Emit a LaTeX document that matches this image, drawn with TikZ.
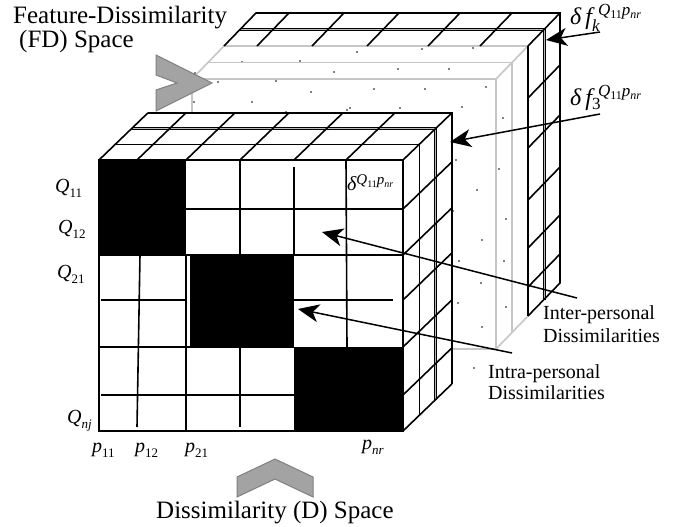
\documentclass[tikz,border=0pt]{standalone}
\usepackage{fontspec}
\setmainfont{Liberation Serif}
\usetikzlibrary{arrows.meta}
\newcommand\SB[1]{\raisebox{-5pt}{\fontsize{13}{13}\selectfont #1}}
\newcommand\SupQP[3]{\raisebox{#1}{\fontsize{#2}{#2}\selectfont\itshape Q\raisebox{-3pt}{\fontsize{#3}{#3}\selectfont\upshape 11}p\raisebox{-3pt}{\fontsize{#3}{#3}\selectfont nr}}}
\begin{document}
\begin{tikzpicture}[x=1pt,y=-1pt,
  bln/.style={line width=1.6pt,draw=black},
  gln/.style={line width=1.6pt,draw=gray!45},
  dbl/.style={line width=1pt,draw=black,double=gray!55,double distance=1pt},
  chev/.style={fill=gray!72,draw=gray,line width=1pt},
  arr/.style={line width=1.5pt,-{Stealth[length=21pt,width=18pt,inset=6pt]}},
  lbl/.style={inner sep=0pt,anchor=base west,font=\fontsize{20}{22}\selectfont},
  ttl/.style={inner sep=0pt,anchor=base west,font=\fontsize{25}{28}\selectfont}]
\path[use as bounding box] (0,0) rectangle (686,527);

% ---------- back cube (FD space) ----------
\foreach \p in {(242,62),(300,61),(334,72),(218,82),(276,81),(311,92),(252,102),(286,112),(347,110),(357,52),(422,49),(473,48),(398,69),(449,69),(374,89),(425,89),(486,87),(462,107),(503,118),(350,108),(400,108),(499,169),(477,190),(456,160),(453,211),(506,219),(482,240),(459,261),(504,261),(481,283),(458,303),(506,307),(482,327),(474,368),(195,73),(194,102)}
  \fill \p circle[radius=0.8];
\draw[gln] (192,79) -- (496,79) -- (496,349) -- (192,349) -- cycle;
\draw[gln] (208,62.5) -- (512,62.5) -- (512,332.5);
\draw[gln] (224,46) -- (528,46);
\draw[gln] (192,79) -- (224,46) (496,79) -- (528,46) (496,349) -- (528,316);
\draw[dbl] (240,29.5) -- (544,29.5) -- (544,299.5);
\draw[bln] (528,46) -- (528,316);
\draw[bln] (224,46) -- (256,13) -- (560,13) -- (560,283) -- (528,316);
\draw[bln] (528,46) -- (560,13);
\foreach \c in {33,88,143,204,256} \draw[bln] ({224+\c},46) -- ({256+\c},13);
\foreach \r in {52,102,154,202,241} \draw[bln] (528,{46+\r}) -- (560,{13+\r});

% ---------- chevrons ----------
\filldraw[chev] (156,55) -- (212,83) -- (156,111) -- (156,90) -- (177,83) -- (156,75) -- cycle;
\filldraw[chev] (237,477) -- (275,459) -- (313,477) -- (313,497) -- (275,479) -- (237,497) -- cycle;

% ---------- front cube (D space) ----------
\fill[white] (99,160) -- (147.9,112.9) -- (451.9,112.9) -- (451.9,383.9) -- (403,431) -- (99,431) -- cycle;
\fill (99,160) rectangle (186,255);
\fill (190,255) rectangle (294,347);
\fill (294,347) rectangle (403,431);
\draw[bln] (99,160) rectangle (403,431);
\draw[bln] (186,209) -- (403,209);
\draw[bln] (99,255) -- (403,255);
\draw[bln] (101,300) -- (186,300) (294,300) -- (393,300);
\draw[bln] (99,347) -- (294,347);
\draw[bln] (101,395) -- (294,395);
\draw[bln] (140,255) -- (137,427);
\draw[bln] (186,255) -- (186,431);
\draw[bln] (240,160) -- (240,255) (240,347) -- (240,427);
\draw[bln] (294,167) -- (294,255);
\draw[bln] (346,160) -- (347,347);
% top and right faces
\draw[bln] (115.3,144.3) -- (419.3,144.3) -- (419.3,415.3);
\draw[dbl] (131.6,128.6) -- (435.6,128.6) -- (435.6,399.6);
\draw[bln] (147.9,112.9) -- (451.9,112.9) -- (451.9,383.9);
\foreach \x in {99,137,186,240,294,346,403} \draw[bln] (\x,160) -- ({\x+48.9},112.9);
\foreach \y in {209,255,300,347,395,431} \draw[bln] (403,\y) -- (451.9,{\y-47.1});

% ---------- labels ----------
\node[ttl] (fd1) at (13,24) {Feature-Dissimilarity};
\node[ttl] (fd2) at (19,48) {(FD) Space};
\node[ttl] (ds) at (156,518) {Dissimilarity (D) Space};
\node[lbl] (q11) at (55,192) {{\itshape Q}\SB{11}};
\node[lbl] (q12) at (58,233) {{\itshape Q}\SB{12}};
\node[lbl] (q21) at (57,278) {{\itshape Q}\SB{21}};
\node[lbl] (qnj) at (67,423) {{\itshape Q}\SB{\itshape nj}};
\node[lbl] (p11) at (92,452) {{\itshape p}\SB{11}};
\node[lbl] (p12) at (135,452) {{\itshape p}\SB{12}};
\node[lbl] (p21) at (185,452) {{\itshape p}\SB{21}};
\node[lbl] (pnr) at (362,449) {{\itshape p}\SB{\itshape nr}};
\node[lbl] (dq) at (347,190) {{\itshape δ}\SupQP{6pt}{15}{10}};
\node[inner sep=0pt,anchor=base west,font=\fontsize{24}{24}\selectfont] (dfk) at (570,25)
  {{\itshape δ\,f}\rlap{\raisebox{-7pt}{\fontsize{17}{17}\selectfont\itshape k}}\kern6pt\SupQP{9pt}{17}{12}};
\node[inner sep=0pt,anchor=base west,font=\fontsize{24}{24}\selectfont] (df3) at (570,106)
  {{\itshape δ\,f}\rlap{\raisebox{-4pt}{\fontsize{17}{17}\selectfont 3}}\kern6pt\SupQP{9pt}{17}{12}};
\node[lbl] (inter1) at (543,319) {Inter-personal};
\node[lbl] (inter2) at (543,342) {Dissimilarities};
\node[lbl] (intra1) at (488,378) {Intra-personal};
\node[lbl] (intra2) at (488,399) {Dissimilarities};

% ---------- arrows ----------
\coordinate (s1) at (600,32);  \coordinate (t1) at (546,40);
\coordinate (s2) at (600,114); \coordinate (t2) at (450,142);
\coordinate (s3) at (577,298); \coordinate (t3) at (322,232);
\coordinate (s4) at (512,353); \coordinate (t4) at (298,309);
\draw[arr] (s1) -- (t1);
\draw[arr] (s2) -- (t2);
\draw[arr] (s3) -- (t3);
\draw[arr] (s4) -- (t4);
\end{tikzpicture}
\end{document}
